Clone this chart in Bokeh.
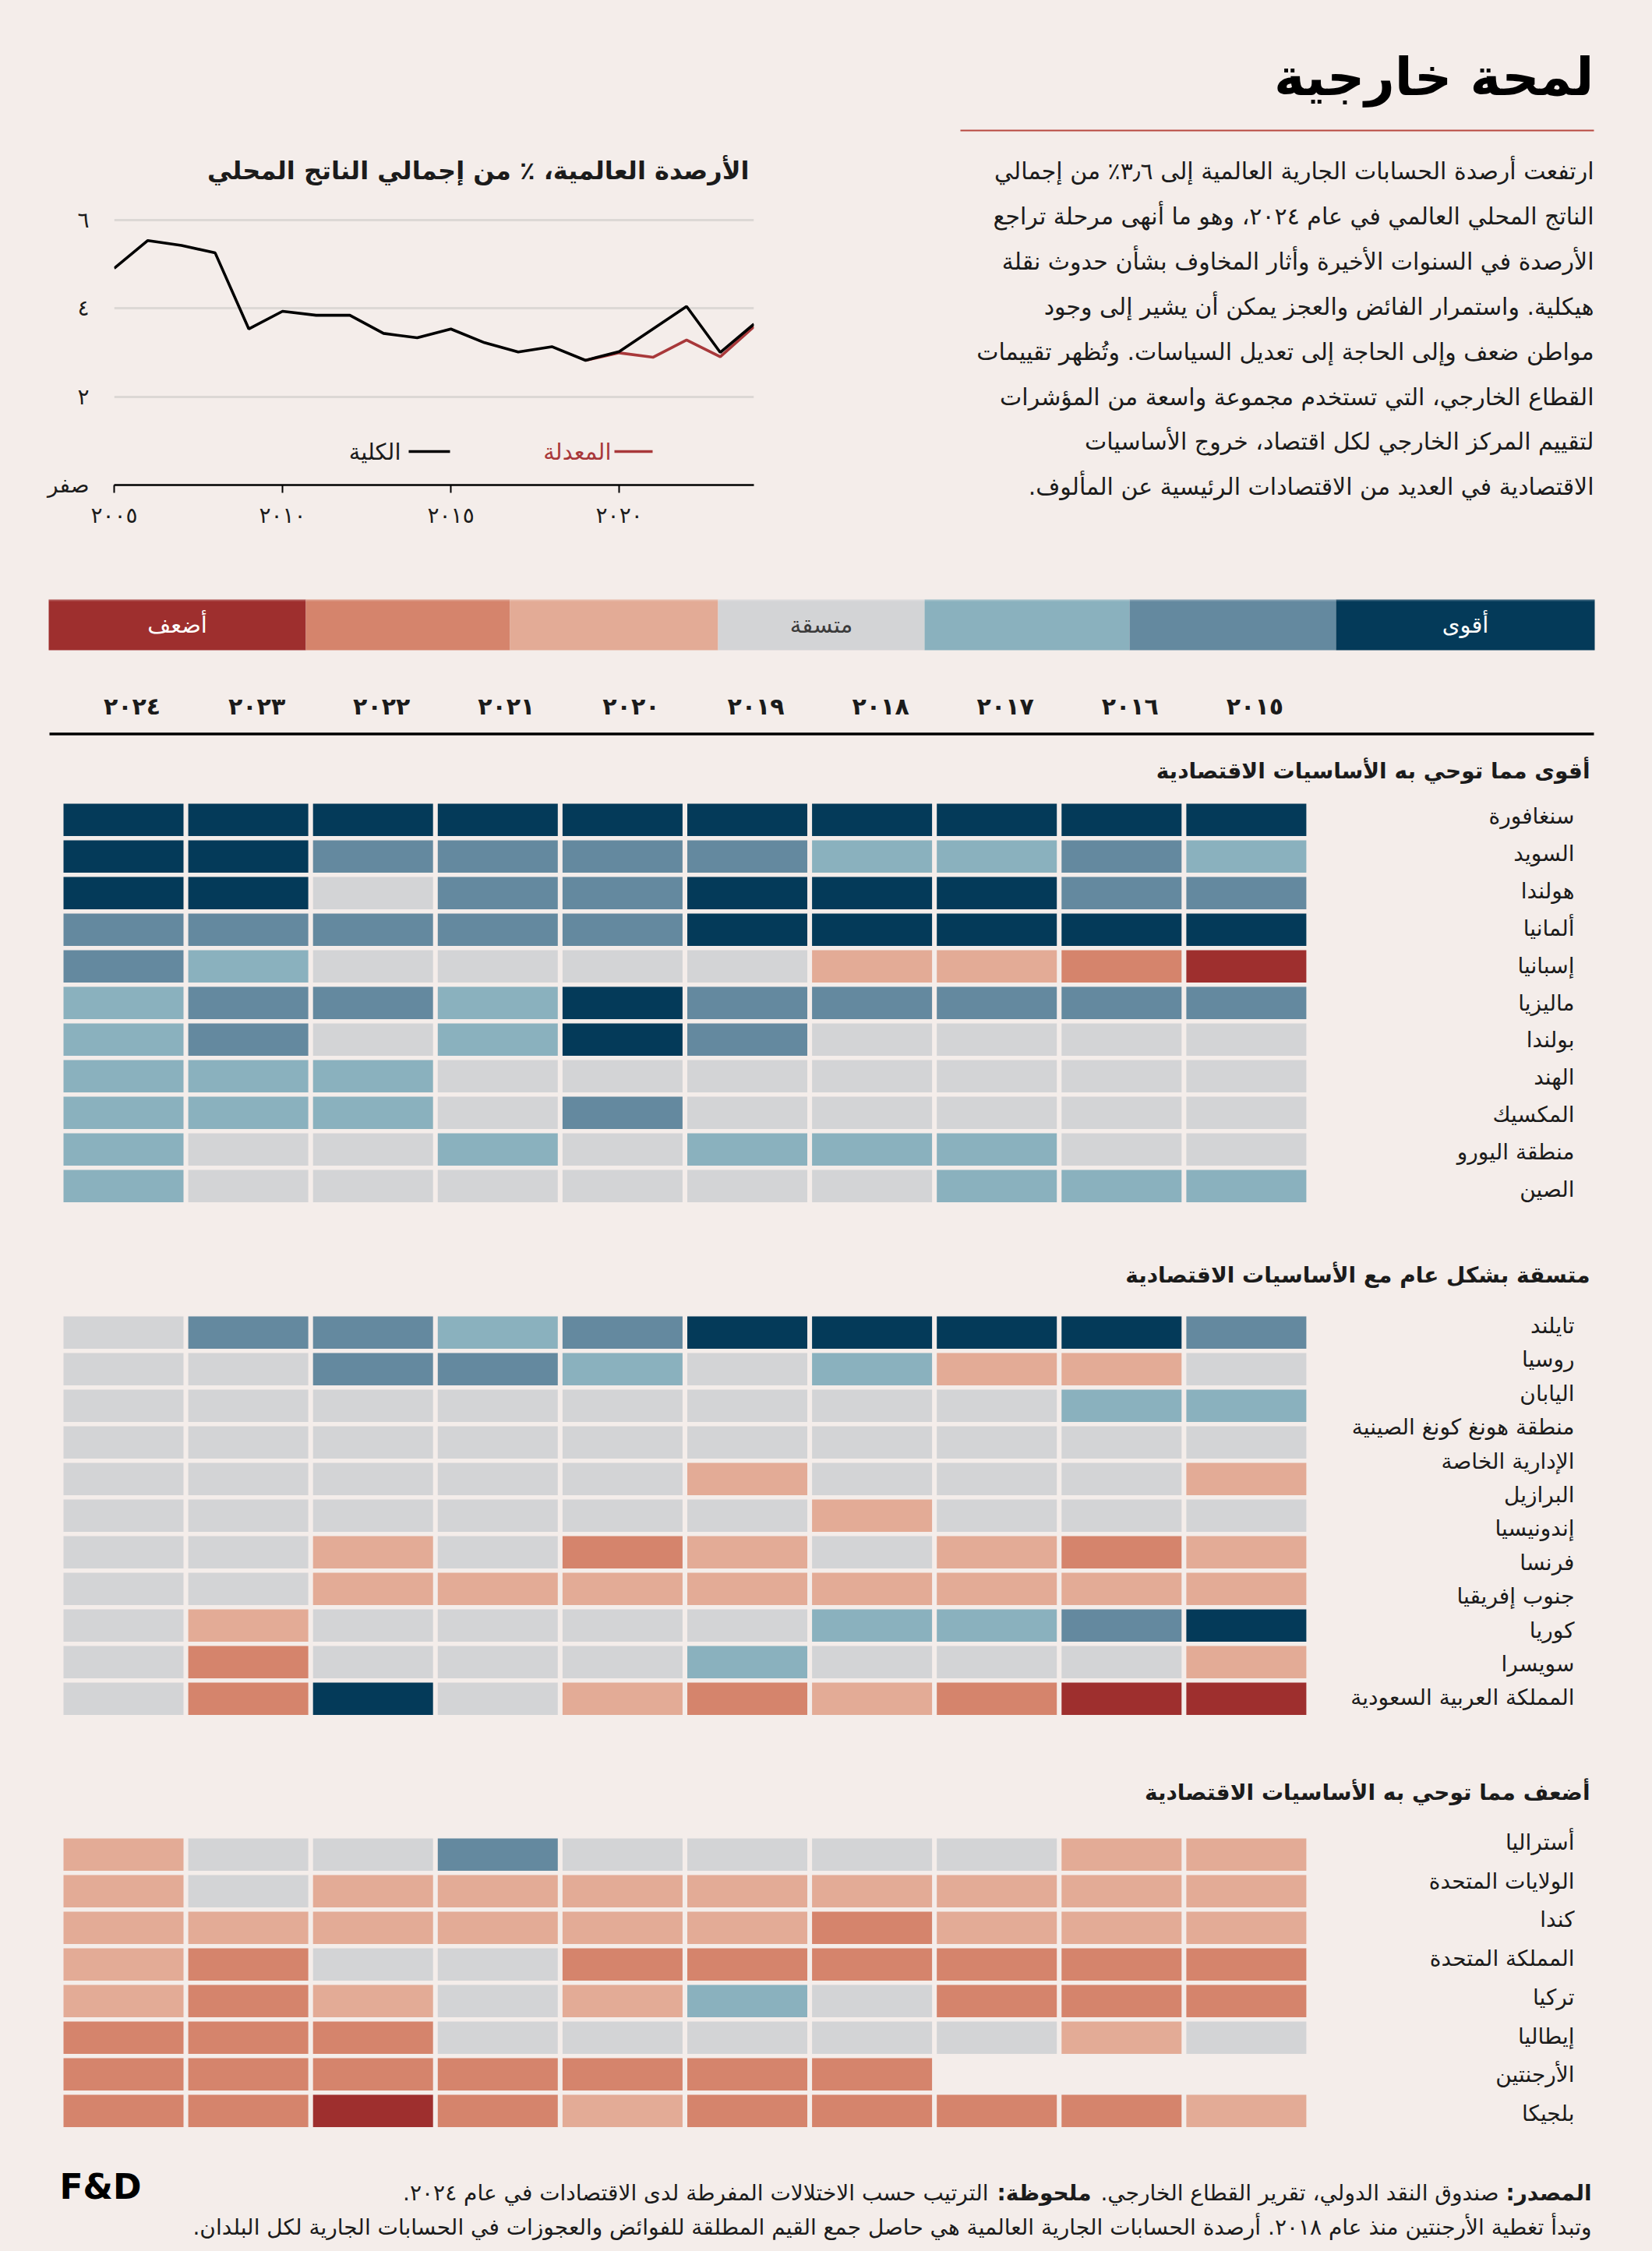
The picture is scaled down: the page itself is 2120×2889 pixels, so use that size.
from bokeh.plotting import figure
from bokeh.layouts import row, column
from bokeh.models import Range1d, FixedTicker, ColumnDataSource
from bokeh.core.properties import value
from bokeh.embed import file_html
from bokeh.resources import INLINE

# ---------------- data ----------------
YEARS_LINE = list(range(2005, 2025))
TOTAL = [4.90, 5.53, 5.42, 5.25, 3.53, 3.93, 3.84, 3.84, 3.43, 3.33,
         3.53, 3.22, 3.01, 3.13, 2.82, 3.02, 3.53, 4.04, 3.00, 3.64]
ADJ_YEARS = [2019, 2020, 2021, 2022, 2023, 2024]
ADJUSTED = [2.82, 2.99, 2.89, 3.28, 2.90, 3.58]
X_TICKS = [2005, 2010, 2015, 2020]
Y_TICKS = [0, 2, 4, 6]

HEAT_YEARS = [2024, 2023, 2022, 2021, 2020, 2019, 2018, 2017, 2016, 2015]

SEC1_TITLE = "أقوى مما توحي به الأساسيات الاقتصادية"
SEC1_NAMES = ["سنغافورة", "السويد", "هولندا", "ألمانيا", "إسبانيا", "ماليزيا",
              "بولندا", "الهند", "المكسيك", "منطقة اليورو", "الصين"]
SEC1_VALUES = [
    [3, 3, 3, 3, 3, 3, 3, 3, 3, 3],
    [3, 3, 2, 2, 2, 2, 1, 1, 2, 1],
    [3, 3, 0, 2, 2, 3, 3, 3, 2, 2],
    [2, 2, 2, 2, 2, 3, 3, 3, 3, 3],
    [2, 1, 0, 0, 0, 0, -1, -1, -2, -3],
    [1, 2, 2, 1, 3, 2, 2, 2, 2, 2],
    [1, 2, 0, 1, 3, 2, 0, 0, 0, 0],
    [1, 1, 1, 0, 0, 0, 0, 0, 0, 0],
    [1, 1, 1, 0, 2, 0, 0, 0, 0, 0],
    [1, 0, 0, 1, 0, 1, 1, 1, 0, 0],
    [1, 0, 0, 0, 0, 0, 0, 1, 1, 1],
]

SEC2_TITLE = "متسقة بشكل عام مع الأساسيات الاقتصادية"
SEC2_NAMES = ["تايلند", "روسيا", "اليابان", "منطقة هونغ كونغ الصينية\nالإدارية الخاصة",
              "البرازيل", "إندونيسيا", "فرنسا", "جنوب إفريقيا", "كوريا", "سويسرا",
              "المملكة العربية السعودية"]
SEC2_VALUES = [
    [0, 2, 2, 1, 2, 3, 3, 3, 3, 2],
    [0, 0, 2, 2, 1, 0, 1, -1, -1, 0],
    [0, 0, 0, 0, 0, 0, 0, 0, 1, 1],
    [0, 0, 0, 0, 0, 0, 0, 0, 0, 0],
    [0, 0, 0, 0, 0, -1, 0, 0, 0, -1],
    [0, 0, 0, 0, 0, 0, -1, 0, 0, 0],
    [0, 0, -1, 0, -2, -1, 0, -1, -2, -1],
    [0, 0, -1, -1, -1, -1, -1, -1, -1, -1],
    [0, -1, 0, 0, 0, 0, 1, 1, 2, 3],
    [0, -2, 0, 0, 0, 1, 0, 0, 0, -1],
    [0, -2, 3, 0, -1, -2, -1, -2, -3, -3],
]

SEC3_TITLE = "أضعف مما توحي به الأساسيات الاقتصادية"
SEC3_NAMES = ["أستراليا", "الولايات المتحدة", "كندا", "المملكة المتحدة", "تركيا",
              "إيطاليا", "الأرجنتين", "بلجيكا"]
SEC3_VALUES = [
    [-1, 0, 0, 2, 0, 0, 0, 0, -1, -1],
    [-1, 0, -1, -1, -1, -1, -1, -1, -1, -1],
    [-1, -1, -1, -1, -1, -1, -2, -1, -1, -1],
    [-1, -2, 0, 0, -2, -2, -2, -2, -2, -2],
    [-1, -2, -1, 0, -1, 1, 0, -2, -2, -2],
    [-2, -2, -2, 0, 0, 0, 0, 0, -1, 0],
    [-2, -2, -2, -2, -2, -2, -2, None, None, None],
    [-2, -2, -3, -2, -1, -2, -2, -2, -2, -1],
]

SCALE_LEVELS = [-3, -2, -1, 0, 1, 2, 3]
SCALE_LABELS = {-3: "أضعف", 0: "متسقة", 3: "أقوى"}

RLM = "\u200f"
TITLE = "لمحة خارجية"
PARAGRAPH = [
    "ارتفعت أرصدة الحسابات الجارية العالمية إلى ٣٫٦٪ من إجمالي",
    "الناتج المحلي العالمي في عام ٢٠٢٤، وهو ما أنهى مرحلة تراجع",
    "الأرصدة في السنوات الأخيرة وأثار المخاوف بشأن حدوث نقلة",
    "هيكلية. واستمرار الفائض والعجز يمكن أن يشير إلى وجود",
    "مواطن ضعف وإلى الحاجة إلى تعديل السياسات. وتُظهر تقييمات",
    "القطاع الخارجي، التي تستخدم مجموعة واسعة من المؤشرات",
    "لتقييم المركز الخارجي لكل اقتصاد، خروج الأساسيات",
    "الاقتصادية في العديد من الاقتصادات الرئيسية عن المألوف." + RLM,
]
CHART_TITLE = "الأرصدة العالمية، ٪ من إجمالي الناتج المحلي"
LEG_TOTAL = "الكلية"
LEG_ADJ = "المعدلة"
ZERO_LABEL = "صفر"

FOOT1 = [("المصدر:" + RLM, True),
         ("صندوق النقد الدولي، تقرير القطاع الخارجي." + RLM, False),
         ("ملحوظة:" + RLM, True),
         ("الترتيب حسب الاختلالات المفرطة لدى الاقتصادات في عام ٢٠٢٤." + RLM, False)]
FOOT2 = "وتبدأ تغطية الأرجنتين منذ عام ٢٠١٨. أرصدة الحسابات الجارية العالمية هي حاصل جمع القيم المطلقة للفوائض والعجوزات في الحسابات الجارية لكل البلدان." + RLM
LOGO = "F&D"

# ---------------- style ----------------
BG = "#F4EDEA"
INK = "#1b1b1b"
RED = "#A8383A"
PALETTE = {-3: "#9E2F2E", -2: "#D5846C", -1: "#E3AB96", 0: "#D3D4D6",
           1: "#8AB1BE", 2: "#64899F", 3: "#043A59"}
AR = "DejaVu Sans"
PAGE_W, PAGE_H, TOP_H = 2120, 2889, 720


def ar_digits(v):
    return str(v).translate(str.maketrans("0123456789", "٠١٢٣٤٥٦٧٨٩"))


def base_fig(**kw):
    p = figure(output_backend="svg", toolbar_location=None, **kw)
    p.background_fill_color = BG
    p.border_fill_color = BG
    p.outline_line_color = None
    if "frame_align" in p.properties():
        p.frame_align = False
    return p


# ================= Figure A : line chart =================
A_W, A_H = 1112, TOP_H
FL, FR, FT, FB = 146, 145, 180, 98          # frame borders (frame: x 146..967, y 180..622)
YMAX = 7.79
pA = base_fig(width=A_W, height=A_H, x_range=Range1d(2005, 2024), y_range=Range1d(0, YMAX),
              min_border_left=FL, min_border_right=FR, min_border_top=FT, min_border_bottom=FB)

frame_w = A_W - FL - FR
frame_h = A_H - FT - FB


def px2x(px):  # page px -> data x
    return 2005 + (px - FL) * 19 / frame_w


def px2y(py):  # page px -> data y
    return (A_H - FB - py) * YMAX / frame_h


pA.xgrid.visible = False
pA.ygrid.ticker = FixedTicker(ticks=[t for t in Y_TICKS if t > 0])
pA.ygrid.grid_line_color = "#DCD8D5"
pA.ygrid.grid_line_width = 3

xa = pA.xaxis[0]
xa.ticker = FixedTicker(ticks=X_TICKS)
xa.major_label_overrides = {t: ar_digits(t) for t in X_TICKS}
xa.axis_line_color = "black"
xa.axis_line_width = 2.5
xa.major_tick_out = 10
xa.major_tick_in = 0
xa.major_tick_line_width = 2
xa.minor_tick_line_color = None
xa.major_label_standoff = 12
xa.major_label_text_font = AR
xa.major_label_text_font_size = "28px"
xa.major_label_text_color = INK

ya = pA.yaxis[0]
ya.ticker = FixedTicker(ticks=Y_TICKS)
ya.major_label_overrides = {t: (ZERO_LABEL if t == 0 else ar_digits(t)) for t in Y_TICKS}
ya.axis_line_color = None
ya.major_tick_line_color = None
ya.minor_tick_line_color = None
ya.major_label_standoff = 26
ya.major_label_text_font = AR
ya.major_label_text_font_size = "28px"
ya.major_label_text_color = INK

pA.line(ADJ_YEARS, ADJUSTED, line_color=RED, line_width=3.6)
pA.line(YEARS_LINE, TOTAL, line_color="black", line_width=3.6)

pA.text(x=[px2x(961)], y=[px2y(218)], text=[CHART_TITLE], text_font=value(AR),
        text_font_style="bold", text_font_size="32px", text_align="right",
        text_baseline="middle", text_color=INK)

# legend (right-to-left: swatch on the right of the label)
leg_y = px2y(579)
pA.segment(x0=[px2x(524)], x1=[px2x(577)], y0=[leg_y], y1=[leg_y], line_color="black", line_width=3.6)
pA.text(x=[px2x(514)], y=[leg_y], text=[LEG_TOTAL], text_font=value(AR), text_font_size="29px",
        text_align="right", text_baseline="middle", text_color=INK)
pA.segment(x0=[px2x(788)], x1=[px2x(837)], y0=[leg_y], y1=[leg_y], line_color=RED, line_width=3.6)
pA.text(x=[px2x(784)], y=[leg_y], text=[LEG_ADJ], text_font=value(AR), text_font_size="29px",
        text_align="right", text_baseline="middle", text_color=RED)

# ================= Figure B : title + paragraph =================
B_W = PAGE_W - A_W
pB = base_fig(width=B_W, height=A_H, x_range=Range1d(A_W, PAGE_W), y_range=Range1d(TOP_H, 0),
              min_border=0, x_axis_location=None, y_axis_location=None)
pB.grid.visible = False
pB.text(x=[2045], y=[98], text=[TITLE], text_font=value(AR), text_font_style="bold",
        text_font_size="67px", text_align="right", text_baseline="middle", text_color="black")
pB.segment(x0=[1232], x1=[2045], y0=[167], y1=[167], line_color="#B7473F", line_width=2)
para_y = [219 + i * 57.9 for i in range(len(PARAGRAPH))]
pB.text(x=[2045] * len(PARAGRAPH), y=para_y, text=PARAGRAPH, text_font=value(AR),
        text_font_size="30px", text_align="right", text_baseline="middle", text_color=INK)

# ================= Figure C : scale, heatmap, footer =================
C_H = PAGE_H - TOP_H
pC = base_fig(width=PAGE_W, height=C_H, x_range=Range1d(0, PAGE_W), y_range=Range1d(PAGE_H, TOP_H),
              min_border=0, x_axis_location=None, y_axis_location=None)
pC.grid.visible = False

# colour scale bar
EDGES = [62, 392, 654, 921, 1186, 1449, 1714, 2046]
pC.quad(left=EDGES[:-1], right=EDGES[1:], top=[769] * 7, bottom=[834] * 7,
        fill_color=[PALETTE[k] for k in SCALE_LEVELS], line_color=None)
pC.segment(x0=[EDGES[0]], x1=[EDGES[-1]], y0=[770], y1=[770], line_color="white",
           line_alpha=0.18, line_width=2)
for i, k in enumerate(SCALE_LEVELS):
    if k in SCALE_LABELS:
        pC.text(x=[(EDGES[i] + EDGES[i + 1]) / 2], y=[801], text=[SCALE_LABELS[k]],
                text_font=value(AR), text_font_size="29px", text_align="center",
                text_baseline="middle", text_color=("#3a3a3a" if k == 0 else "white"))

# heat-map geometry
COL0, PITCH_X, CELL_W = 81, 160.1, 154
PITCH_Y, CELL_H = 47.0, 41.5
col_cx = [COL0 + CELL_W / 2 + i * PITCH_X for i in range(len(HEAT_YEARS))]

pC.text(x=[c + 11 for c in col_cx], y=[906] * len(HEAT_YEARS), text=[ar_digits(y) for y in HEAT_YEARS],
        text_font=value(AR), text_font_style="bold", text_font_size="30px", text_align="center",
        text_baseline="middle", text_color=INK)
pC.segment(x0=[63], x1=[2045], y0=[941.5], y1=[941.5], line_color="black", line_width=3.5)

SECTIONS = [
    (SEC1_TITLE, SEC1_NAMES, SEC1_VALUES, 989, 1031, 1047, 47.9),
    (SEC2_TITLE, SEC2_NAMES, SEC2_VALUES, 1636, 1689, 1701, 43.4),
    (SEC3_TITLE, SEC3_NAMES, SEC3_VALUES, 2300, 2359, 2364, 49.7),
]
for title, names, vals, title_y, top, lab0, lab_pitch in SECTIONS:
    pC.text(x=[2040], y=[title_y], text=[title], text_font=value(AR), text_font_style="bold",
            text_font_size="28px", text_align="right", text_baseline="middle", text_color=INK)
    xs, ys, cs = [], [], []
    for r, rowv in enumerate(vals):
        for c, v in enumerate(rowv):
            if v is None:
                continue
            xs.append(col_cx[c])
            ys.append(top + r * PITCH_Y + CELL_H / 2)
            cs.append(PALETTE[v])
    pC.rect(x="x", y="y", width=CELL_W, height=CELL_H, fill_color="c", line_color=None,
            source=ColumnDataSource(dict(x=xs, y=ys, c=cs)))
    lx, ly, lt = [], [], []
    slot = 0
    for name in names:
        for part in name.split("\n"):
            lx.append(2020)
            ly.append(lab0 + slot * lab_pitch)
            lt.append(part)
            slot += 1
    pC.text(x=lx, y=ly, text=lt, text_font=value(AR), text_font_size="28px", text_align="right",
            text_baseline="middle", text_color=INK)

# footer
pC.text(x=[76], y=[2806], text=[LOGO], text_font=value("DejaVu Sans"), text_font_style="bold",
        text_font_size="44px", text_align="left", text_baseline="middle", text_color="black")
FOOT_W = [108, 512, 121]   # estimated widths of the first pieces (right to left)
xpos = 2042
for i, (t, b) in enumerate(FOOT1):
    pC.text(x=[xpos], y=[2814], text=[t], text_font=value(AR), text_font_size="28px",
            text_font_style=("bold" if b else "normal"), text_align="right",
            text_baseline="middle", text_color=INK)
    if i < len(FOOT_W):
        xpos -= FOOT_W[i] + 11
pC.text(x=[2042], y=[2858], text=[FOOT2], text_font=value(AR), text_font_size="28px",
        text_align="right", text_baseline="middle", text_color=INK)

layout = column(row(pA, pB), pC)
html = file_html(layout, INLINE)
html = html.replace("</head>", "<style>body{background:%s;}</style></head>" % BG, 1)
open("out.html", "w").write(html)
